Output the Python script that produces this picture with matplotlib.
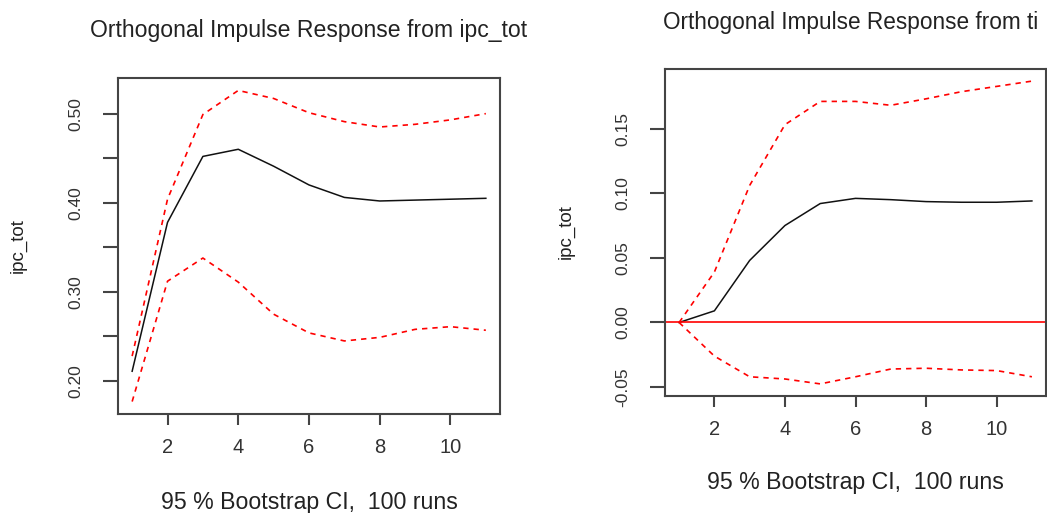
import matplotlib
matplotlib.use("Agg")
import matplotlib.pyplot as plt
import numpy as np

plt.rcParams['font.family'] = ['Liberation Sans', 'DejaVu Sans']

# ---- data ----
horizon = [1, 2, 3, 4, 5, 6, 7, 8, 9, 10, 11]

left_irf = [0.211, 0.378, 0.452, 0.460, 0.441, 0.420, 0.406, 0.402, 0.403, 0.404, 0.405]
left_upper = [0.228, 0.404, 0.499, 0.526, 0.517, 0.501, 0.491, 0.485, 0.488, 0.493, 0.500]
left_lower = [0.177, 0.312, 0.338, 0.311, 0.275, 0.254, 0.245, 0.249, 0.258, 0.261, 0.257]

right_irf = [0.000, 0.009, 0.048, 0.075, 0.092, 0.096, 0.095, 0.0935, 0.093, 0.093, 0.094]
right_upper = [0.000, 0.039, 0.106, 0.153, 0.171, 0.171, 0.168, 0.173, 0.1785, 0.1826, 0.1867]
right_lower = [0.000, -0.026, -0.042, -0.0437, -0.0475, -0.042, -0.036, -0.0354, -0.0367, -0.0372, -0.042]

left_title = "Orthogonal Impulse Response from ipc_tot"
right_title = "Orthogonal Impulse Response from ti"
xlabel_text = "95 % Bootstrap CI,  100 runs"
ylabel_text = "ipc_tot"

left_yticks = [0.20, 0.25, 0.30, 0.35, 0.40, 0.45, 0.50]
left_yticklabels = ["0.20", "", "0.30", "", "0.40", "", "0.50"]
right_yticks = [-0.05, 0.00, 0.05, 0.10, 0.15]
right_yticklabels = ["-0.05", "0.00", "0.05", "0.10", "0.15"]
xticks = [2, 4, 6, 8, 10]

W, H = 1047, 513
fig = plt.figure(figsize=(W / 100, H / 100), dpi=100)


def box(x0, x1, ytop, ybot):
    return [x0 / W, 1 - ybot / H, (x1 - x0) / W, (ybot - ytop) / H]


axL = fig.add_axes(box(118, 500, 78, 414))
axR = fig.add_axes(box(665, 1046, 69, 396))

spine_col = "#444444"


def style(ax, lo, up, irf, yt, ytl):
    ax.plot(horizon, irf, color="#111111", lw=1.1)
    ax.plot(horizon, up, color="red", lw=1.2, dashes=(3.2, 3))
    ax.plot(horizon, lo, color="red", lw=1.2, dashes=(3.2, 3))
    allv = list(lo) + list(up) + list(irf)
    ymin, ymax = min(allv), max(allv)
    r = ymax - ymin
    ax.set_ylim(ymin - 0.04 * r, ymax + 0.04 * r)
    ax.set_xlim(1 - 0.4, 11 + 0.4)
    ax.set_xticks(xticks)
    ax.set_xticklabels([str(t) for t in xticks], fontsize=14.5, color="#333333")
    ax.set_yticks(yt)
    ax.set_yticklabels(ytl, fontsize=12.5, rotation=90, va="center", color="#333333")
    ax.tick_params(axis="x", length=8, width=1.5, color=spine_col, pad=9)
    ax.tick_params(axis="y", length=11, width=1.5, color=spine_col, pad=14)
    for s in ax.spines.values():
        s.set_color(spine_col)
        s.set_linewidth(1.5)


style(axL, left_lower, left_upper, left_irf, left_yticks, left_yticklabels)
style(axR, right_lower, right_upper, right_irf, right_yticks, right_yticklabels)
axR.axhline(0, color="red", lw=1.2)


def ftext(x, y, s, **kw):
    fig.text(x / W, 1 - y / H, s, **kw)


ftext(309, 30, left_title, ha="center", va="center", fontsize=16.6, color="#222222")
ftext(663, 22, right_title, ha="left", va="center", fontsize=16.3, color="#222222")
ftext(309, 503, xlabel_text, ha="center", va="center", fontsize=16.7, color="#222222")
ftext(855, 482, xlabel_text, ha="center", va="center", fontsize=16.7, color="#222222")
ftext(18, 246, ylabel_text, ha="center", va="center", rotation=90, fontsize=13.5, color="#222222")
ftext(566, 232, ylabel_text, ha="center", va="center", rotation=90, fontsize=13.5, color="#222222")

fig.savefig("out.png", dpi=100)
